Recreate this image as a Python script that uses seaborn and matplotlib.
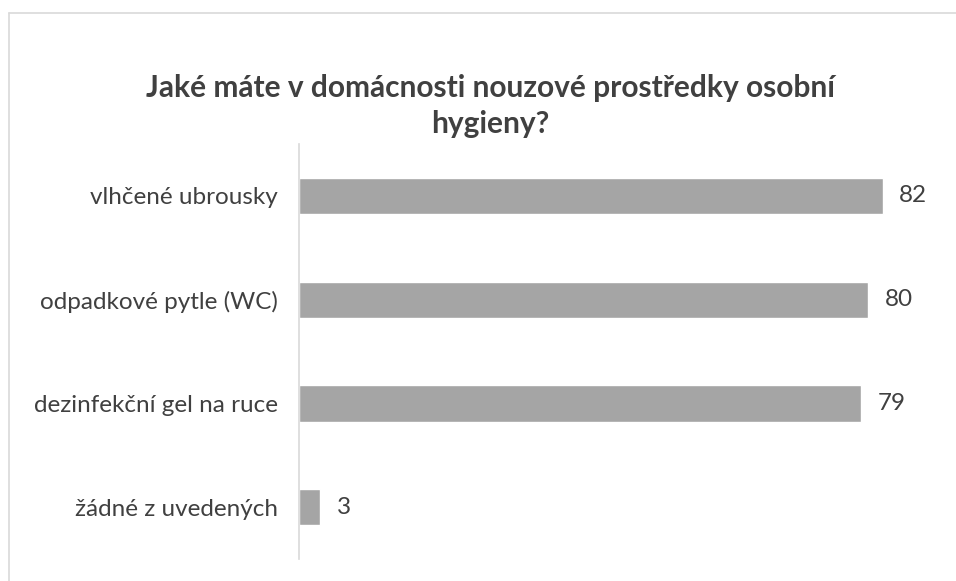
import matplotlib
matplotlib.use("Agg")
import matplotlib.pyplot as plt
import seaborn as sns
import pandas as pd
from matplotlib.lines import Line2D

# Data
categories = ["vlhčené ubrousky", "odpadkové pytle (WC)", "dezinfekční gel na ruce", "žádné z uvedených"]
values = [82, 80, 79, 3]

BAR_COLOR = "#A5A5A5"
TEXT_COLOR = "#404040"

sns.set_style("white")
plt.rcParams["font.family"] = ["Lato", "DejaVu Sans"]

df = pd.DataFrame({"category": categories, "value": values})

fig = plt.figure(figsize=(9.56, 5.81), dpi=100)
ax = fig.add_axes([0.3128, 0.038, 0.67, 0.714])

sns.barplot(data=df, x="value", y="category", color=BAR_COLOR, width=0.35,
            saturation=1, ax=ax)

ax.set_xlim(0, 90)
ax.set_xlabel("")
ax.set_ylabel("")
ax.set_xticks([])
for side in ["top", "right", "bottom"]:
    ax.spines[side].set_visible(False)
ax.spines["left"].set_color("#D9D9D9")
ax.spines["left"].set_linewidth(1.2)
ax.tick_params(axis="y", length=0, pad=15, labelsize=17.5, labelcolor=TEXT_COLOR)

for p, v in zip(ax.patches, values):
    ax.text(p.get_width() + 2.3, p.get_y() + p.get_height() / 2, f"{v}",
            ha="left", va="center", fontsize=17.5, color=TEXT_COLOR)

fig.text(0.513, 0.818, "Jaké máte v domácnosti nouzové prostředky osobní\nhygieny?",
         ha="center", va="center", fontsize=21.5, fontweight="bold",
         color=TEXT_COLOR, linespacing=1.35)

# outer chart frame (only top and left edges visible)
fig.add_artist(Line2D([9 / 956, 9 / 956], [0, 1 - 13 / 581], color="#D9D9D9", lw=1.2))
fig.add_artist(Line2D([9 / 956, 1], [1 - 13 / 581, 1 - 13 / 581], color="#D9D9D9", lw=1.2))

fig.savefig("out.png", dpi=100, facecolor="white")
